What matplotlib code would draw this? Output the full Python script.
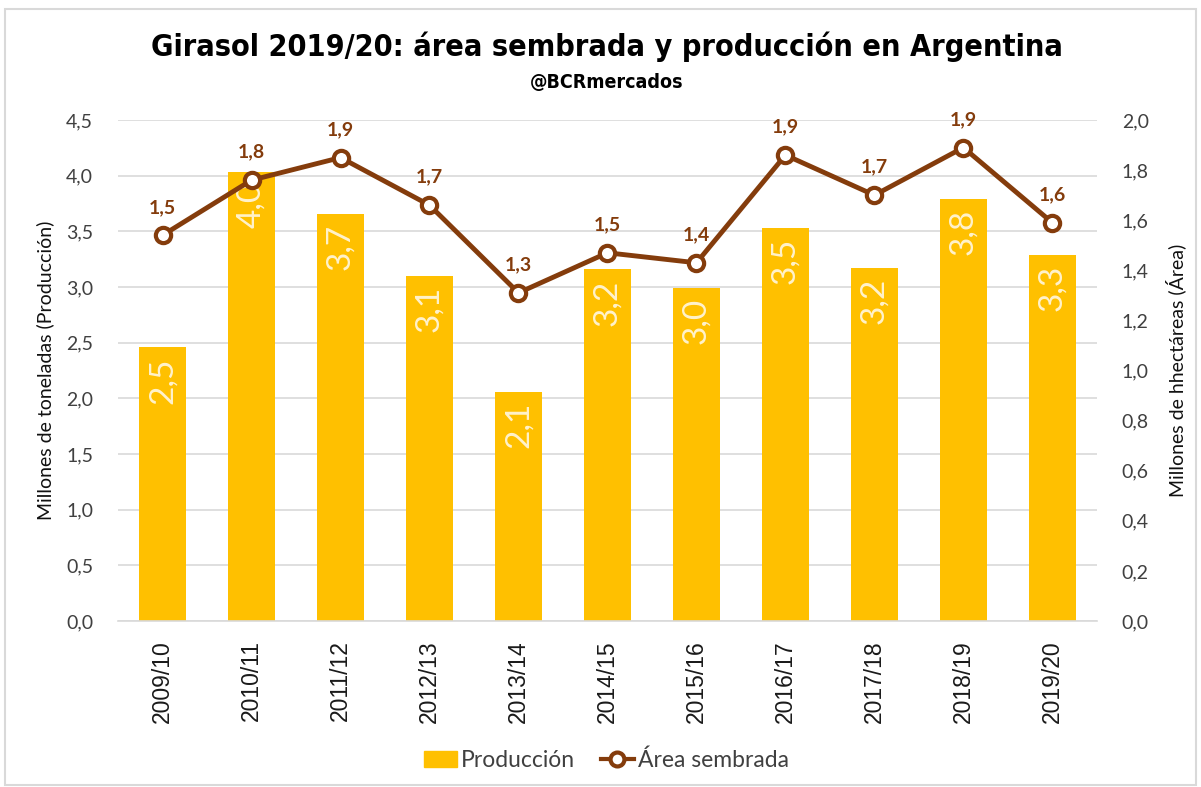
import matplotlib
matplotlib.use('Agg')
import matplotlib.pyplot as plt
from matplotlib.patches import Rectangle
from matplotlib.lines import Line2D
from matplotlib.ticker import FuncFormatter

campanias = ['2009/10', '2010/11', '2011/12', '2012/13', '2013/14', '2014/15',
             '2015/16', '2016/17', '2017/18', '2018/19', '2019/20']
produccion = [2.46, 4.03, 3.66, 3.10, 2.06, 3.16, 2.99, 3.53, 3.17, 3.79, 3.29]
area = [1.54, 1.76, 1.85, 1.66, 1.31, 1.47, 1.43, 1.86, 1.70, 1.89, 1.59]

BAR = '#FFC000'
LINE = '#843C0C'
GRID = '#D9D9D9'
TXT = '#404040'
SANS = ['Lato', 'DejaVu Sans']

def coma(v, _=None, nd=1):
    return f'{v:.{nd}f}'.replace('.', ',')

fig = plt.figure(figsize=(12.01, 7.87), dpi=100)
fig.patches.append(Rectangle((0.004, 0.003), 0.992, 0.986, transform=fig.transFigure,
                             fill=False, edgecolor='#D9D9D9', lw=1.5))

ax = fig.add_axes([0.0983, 0.2109, 0.815, 0.6366])
ax2 = ax.twinx()

x = list(range(len(campanias)))
ax.bar(x, produccion, width=0.52, color=BAR, zorder=2)
ax.set_xlim(-0.5, len(campanias) - 0.5)
ax.set_ylim(0, 4.5)
ax.set_yticks([i * 0.5 for i in range(10)])
ax.yaxis.set_major_formatter(FuncFormatter(coma))
ax.grid(axis='y', color=GRID, lw=1.2, zorder=0)
ax.set_axisbelow(True)
for s in ['top', 'left', 'right']:
    ax.spines[s].set_visible(False)
ax.spines['bottom'].set_color(GRID)
ax.spines['bottom'].set_linewidth(1.2)
ax.tick_params(axis='y', length=0, pad=18, labelsize=14, labelcolor=TXT)
ax.tick_params(axis='x', length=0, pad=14)
ax.set_xticks(x)
ax.set_xticklabels(campanias, rotation=90, fontsize=16.5, family='Liberation Sans', color='#1a1a1a')
for lab in ax.get_yticklabels():
    lab.set_family(SANS)

# etiquetas dentro de las barras
for xi, v in zip(x, produccion):
    ax.text(xi, v - 0.09, coma(v), rotation=90, ha='center', va='top',
            fontsize=24, color='#FFF2CC', family=SANS, zorder=3)

ax2.plot(x, area, color=LINE, lw=3.5, marker='o', markersize=11,
         markerfacecolor='white', markeredgecolor=LINE, markeredgewidth=3, zorder=4)
ax2.set_ylim(0, 2.0)
ax2.set_yticks([i * 0.2 for i in range(11)])
ax2.yaxis.set_major_formatter(FuncFormatter(coma))
for s in ['top', 'left', 'right', 'bottom']:
    ax2.spines[s].set_visible(False)
ax2.tick_params(axis='y', length=0, pad=18, labelsize=14, labelcolor=TXT)
for lab in ax2.get_yticklabels():
    lab.set_family(SANS)
for xi, v in zip(x, area):
    ax2.annotate(coma(v), (xi, v), xytext=(0, 14), textcoords='offset points',
                 ha='center', va='bottom', fontsize=14, fontweight='bold',
                 color=LINE, family=SANS)

fig.text(0.0375, 0.53, 'Millones de toneladas (Producción)', rotation=90,
         ha='center', va='center', fontsize=14, family=SANS, color='#111111')
fig.text(0.979, 0.53, 'Millones de hhectáreas (Área)', rotation=90,
         ha='center', va='center', fontsize=14, family=SANS, color='#111111')

fig.text(0.505, 0.941, 'Girasol 2019/20: área sembrada y producción en Argentina',
         ha='center', va='center', fontsize=22, fontweight='bold',
         family='DejaVu Sans', fontstretch='condensed')
fig.text(0.505, 0.895, '@BCRmercados', ha='center', va='center',
         fontsize=14, fontweight='bold', family='DejaVu Sans', fontstretch='condensed')

handles = [Rectangle((0, 0), 1, 1, color=BAR),
           Line2D([], [], color=LINE, lw=3, marker='o', markersize=10,
                  markerfacecolor='white', markeredgewidth=3)]
leg = fig.legend(handles, ['Producción', 'Área sembrada'], loc='center',
                 bbox_to_anchor=(0.505, 0.034), ncol=2, frameon=False,
                 prop={'family': SANS, 'size': 16.5}, handlelength=1.45,
                 handletextpad=0.2, columnspacing=1.1)
for t in leg.get_texts():
    t.set_color(TXT)

fig.savefig('out.png', dpi=100)
